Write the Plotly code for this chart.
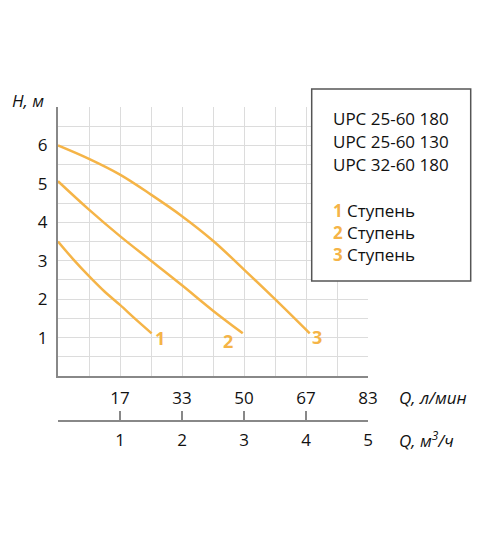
import plotly.graph_objects as go

# подача в м3/ч, напор в м
q1 = [0, 0.25, 0.5, 0.75, 1.0, 1.25, 1.51]
h1 = [3.5, 3.03, 2.6, 2.2, 1.85, 1.48, 1.11]
q2 = [0, 0.5, 1.0, 1.5, 2.0, 2.5, 2.98]
h2 = [5.07, 4.33, 3.64, 3.0, 2.36, 1.7, 1.11]
q3 = [0, 0.5, 1.0, 1.5, 2.0, 2.5, 3.0, 3.5, 4.06]
h3 = [6.0, 5.65, 5.24, 4.72, 4.16, 3.52, 2.77, 2.0, 1.11]

curves = [(q1, h1, "1", 1.65, 0.99), (q2, h2, "2", 2.74, 0.91), (q3, h3, "3", 4.18, 1.02)]

x_ticks = [0, 1, 2, 3, 4, 5]
lmin_labels = ["17", "33", "50", "67", "83"]
m3h_labels = ["1", "2", "3", "4", "5"]
h_labels = ["1", "2", "3", "4", "5", "6"]

models = ["UPC 25-60 180", "UPC 25-60 130", "UPC 32-60 180"]
stages = ["1", "2", "3"]

orange = "#F5B447"
font = "Open Sans"

fig = go.Figure()
for q, h, name, lx, ly in curves:
    fig.add_trace(go.Scatter(x=q, y=h, mode="lines", line=dict(color=orange, width=2.5, shape="spline"),
                             hoverinfo="skip", showlegend=False))
    fig.add_annotation(x=lx, y=ly, text="<b>" + name + "</b>", showarrow=False,
                       font=dict(color=orange, size=18, family=font))

# пустая линия, чтобы ось м3/ч нарисовалась
fig.add_trace(go.Scatter(x=[0, 5], y=[0, 0], xaxis="x2", mode="lines", line=dict(width=0),
                         hoverinfo="skip", showlegend=False))

halves = [i * 0.5 for i in range(11)]
x_text = []
for v in halves:
    if v >= 1 and v == int(v):
        x_text.append(lmin_labels[int(v) - 1])
    else:
        x_text.append("")
y_vals = [i * 0.5 for i in range(15)]
y_text = []
for v in y_vals:
    if 1 <= v <= 6 and v == int(v):
        y_text.append(h_labels[int(v) - 1])
    else:
        y_text.append("")

# страница имеет отступ 8px, поэтому фигура чуть меньше окна
fig.update_layout(
    width=492, height=530,
    margin=dict(l=50, r=132, t=99, b=80),
    paper_bgcolor="white", plot_bgcolor="white",
    font=dict(family=font, size=17, color="#111"),
    xaxis=dict(range=[0, 5], tickvals=halves, ticktext=x_text, showgrid=True, gridcolor="#dcdcdc",
               gridwidth=1, showline=True, linecolor="#888", linewidth=2, ticks="", zeroline=False,
               ticklabelstandoff=6, fixedrange=True),
    yaxis=dict(range=[0, 7], domain=[0.2336, 1], tickvals=y_vals, ticktext=y_text, showgrid=True,
               gridcolor="#dcdcdc", gridwidth=1, showline=True, linecolor="#888", linewidth=2,
               ticks="", zeroline=False, ticklabelstandoff=5, fixedrange=True),
    xaxis2=dict(range=[0, 5], overlaying="x", anchor="free", position=0.106, side="bottom",
                tickvals=x_ticks, ticktext=[""] + m3h_labels, ticks="inside", ticklen=9,
                tickcolor="#888", tickwidth=2, showline=True, linecolor="#888", linewidth=2,
                showgrid=False, zeroline=False, ticklabelstandoff=4, fixedrange=True),
)


def py(screen_y):
    # экранный пиксель -> доля бумаги
    return (458 - screen_y) / 351


def px(screen_x):
    return (screen_x - 58) / 310


# подписи осей
fig.add_annotation(xref="paper", yref="paper", x=px(46), y=py(100), xanchor="right", yanchor="middle",
                   text="<i>H, м</i>", showarrow=False)
fig.add_annotation(xref="paper", yref="paper", x=px(397), y=py(397), xanchor="left", yanchor="middle",
                   text="<i>Q, л/мин</i>", showarrow=False)
fig.add_annotation(xref="paper", yref="paper", x=px(397), y=py(439), xanchor="left", yanchor="middle",
                   text="<i>Q, м<sup>3</sup>/ч</i>", showarrow=False)

# рамка с пояснениями
fig.add_shape(type="rect", xref="paper", yref="paper", x0=px(311.7), x1=px(470.7), y0=py(281), y1=py(89),
              fillcolor="white", line=dict(color="#555", width=1.5), layer="above")
model_y = [118.5, 141, 164]
for txt, yy in zip(models, model_y):
    fig.add_annotation(xref="paper", yref="paper", x=px(331), y=py(yy), xanchor="left", yanchor="middle",
                       text=txt, showarrow=False)
stage_y = [210, 232.5, 254.5]
for s, yy in zip(stages, stage_y):
    fig.add_annotation(xref="paper", yref="paper", x=px(331), y=py(yy), xanchor="left", yanchor="middle",
                       text="<b>" + s + "</b>", font=dict(color=orange), showarrow=False)
    fig.add_annotation(xref="paper", yref="paper", x=px(345), y=py(yy), xanchor="left", yanchor="middle",
                       text="Ступень", showarrow=False)

fig.write_html("out.html")
